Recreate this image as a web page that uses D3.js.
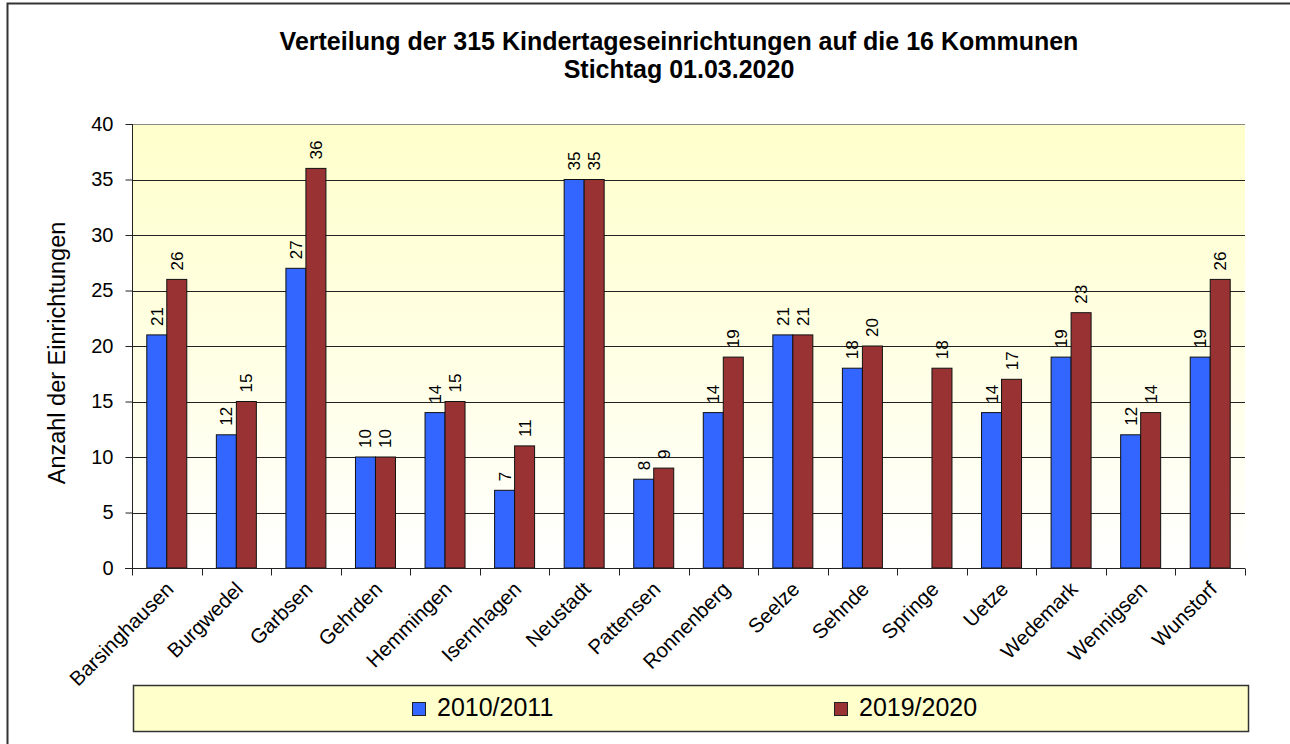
<!DOCTYPE html>
<html>
<head>
<meta charset="utf-8">
<script src="https://cdn.jsdelivr.net/npm/d3@7"></script>
<style>
  body { margin: 0; background: #fff; }
  text { font-family: "Liberation Sans", Arial, sans-serif; fill: #000; }
</style>
</head>
<body>
<svg id="chart" width="1290" height="744"></svg>
<script>
  // Kommunen + Anzahl Kitas
  var kommunen = ['Barsinghausen', 'Burgwedel', 'Garbsen', 'Gehrden', 'Hemmingen', 'Isernhagen',
    'Neustadt', 'Pattensen', 'Ronnenberg', 'Seelze', 'Sehnde', 'Springe', 'Uetze',
    'Wedemark', 'Wennigsen', 'Wunstorf'];
  var werte2010 = [21, 12, 27, 10, 14, 7, 35, 8, 14, 21, 18, null, 14, 19, 12, 19];
  var werte2019 = [26, 15, 36, 10, 15, 11, 35, 9, 19, 21, 20, 18, 17, 23, 14, 26];
  var serien = ['2010/2011', '2019/2020'];
  var farben = ['#3366FF', '#993333'];
  var yTicks = [0, 5, 10, 15, 20, 25, 30, 35, 40];

  var svg = d3.select('#chart');
  var plot = { left: 132, right: 1245, top: 124, bottom: 568 };

  // rahmen (nur links + oben sichtbar)
  svg.append('path')
    .attr('d', 'M7.5,744 L7.5,3.5 L1290,3.5')
    .attr('fill', 'none').attr('stroke', '#333').attr('stroke-width', 2);

  var defs = svg.append('defs');
  var grad = defs.append('linearGradient').attr('id', 'bg')
    .attr('x1', 0).attr('y1', 0).attr('x2', 0).attr('y2', 1);
  grad.append('stop').attr('offset', '0%').attr('stop-color', '#FFFFCC');
  grad.append('stop').attr('offset', '55%').attr('stop-color', '#FFFFE6');
  grad.append('stop').attr('offset', '100%').attr('stop-color', '#FFFFFF');

  var x0 = d3.scaleBand().domain(kommunen).range([plot.left, plot.right]);
  var x1 = d3.scaleBand().domain(serien).range([0, 40]);
  var y = d3.scaleLinear().domain([0, 40]).range([plot.bottom, plot.top]);
  var offset = (x0.bandwidth() - 40) / 2;

  svg.append('rect')
    .attr('x', plot.left).attr('y', plot.top)
    .attr('width', plot.right - plot.left).attr('height', plot.bottom - plot.top)
    .attr('fill', 'url(#bg)');

  // gitterlinien
  svg.append('g').selectAll('line')
    .data(yTicks.filter(function (d) { return d > 0; }))
    .enter().append('line')
    .attr('x1', plot.left).attr('x2', plot.right)
    .attr('y1', function (d) { return Math.round(y(d)) + 0.5; })
    .attr('y2', function (d) { return Math.round(y(d)) + 0.5; })
    .attr('stroke', function (d) { return d === 40 ? '#888' : '#222'; })
    .attr('stroke-width', 1);

  // balken
  var gruppen = svg.append('g').selectAll('g')
    .data(kommunen)
    .enter().append('g')
    .attr('transform', function (d) { return 'translate(' + (x0(d) + offset) + ',0)'; });

  gruppen.selectAll('rect')
    .data(function (d, i) {
      return [{ s: serien[0], v: werte2010[i], c: farben[0] }, { s: serien[1], v: werte2019[i], c: farben[1] }];
    })
    .enter().filter(function (d) { return d.v != null; })
    .append('rect')
    .attr('x', function (d) { return x1(d.s); })
    .attr('y', function (d) { return y(d.v); })
    .attr('width', x1.bandwidth())
    .attr('height', function (d) { return y(0) - y(d.v); })
    .attr('fill', function (d) { return d.c; })
    .attr('stroke', '#111').attr('stroke-width', 1);

  gruppen.selectAll('text')
    .data(function (d, i) {
      return [{ s: serien[0], v: werte2010[i] }, { s: serien[1], v: werte2019[i] }];
    })
    .enter().filter(function (d) { return d.v != null; })
    .append('text')
    .attr('transform', function (d) {
      return 'translate(' + (x1(d.s) + x1.bandwidth() / 2 + 6) + ',' + (y(d.v) - 9) + ') rotate(-90)';
    })
    .attr('font-size', 17)
    .text(function (d) { return d.v; });

  // y-achse
  var yAxis = svg.append('g')
    .attr('transform', 'translate(' + (plot.left + 0.5) + ',0)')
    .call(d3.axisLeft(y).tickValues(yTicks).tickSize(7).tickPadding(12));
  yAxis.select('.domain').attr('stroke', '#222').attr('d', 'M0,' + plot.top + 'V' + plot.bottom);
  yAxis.selectAll('.tick line').attr('stroke', '#222');
  yAxis.selectAll('.tick text').attr('font-size', 20).attr('font-family', '"Liberation Sans", Arial, sans-serif').attr('fill', '#000');

  // x-achse
  var xAxis = svg.append('g')
    .attr('transform', 'translate(0,' + (plot.bottom + 0.5) + ')');
  xAxis.append('line').attr('x1', plot.left - 7).attr('x2', plot.right)
    .attr('stroke', '#222');
  xAxis.selectAll('line.tk')
    .data(kommunen.concat(['_end']))
    .enter().append('line')
    .attr('class', 'tk')
    .attr('x1', function (d, i) { return Math.round(plot.left + i * x0.bandwidth()) + 0.5; })
    .attr('x2', function (d, i) { return Math.round(plot.left + i * x0.bandwidth()) + 0.5; })
    .attr('y1', 0).attr('y2', 7)
    .attr('stroke', '#222');
  xAxis.selectAll('text')
    .data(kommunen)
    .enter().append('text')
    .attr('text-anchor', 'end')
    .attr('font-size', 20.5)
    .attr('transform', function (d) {
      return 'translate(' + (x0(d) + x0.bandwidth() / 2 + 8) + ',22) rotate(-45)';
    })
    .text(function (d) { return d; });

  // y-titel
  svg.append('text')
    .attr('transform', 'translate(65,' + ((plot.top + plot.bottom) / 2 + 7) + ') rotate(-90)')
    .attr('text-anchor', 'middle')
    .attr('font-size', 23.5)
    .text('Anzahl der Einrichtungen');

  // titel
  var titel = svg.append('text')
    .attr('text-anchor', 'middle')
    .attr('font-size', 25)
    .attr('font-weight', 'bold');
  titel.append('tspan').attr('x', 679).attr('y', 50).text('Verteilung der 315 Kindertageseinrichtungen auf die 16 Kommunen');
  titel.append('tspan').attr('x', 679).attr('y', 78).text('Stichtag 01.03.2020');

  // legende
  var leg = svg.append('g');
  leg.append('rect')
    .attr('x', 133.5).attr('y', 685.5).attr('width', 1115).attr('height', 46)
    .attr('fill', '#FFFFCC').attr('stroke', '#333').attr('stroke-width', 1.5);
  var legX = [412, 834];
  serien.forEach(function (s, i) {
    leg.append('rect')
      .attr('x', legX[i] + 0.5).attr('y', 702.5).attr('width', 13).attr('height', 13)
      .attr('fill', farben[i]).attr('stroke', '#222');
    leg.append('text')
      .attr('x', legX[i] + 25).attr('y', 716)
      .attr('font-size', 25)
      .text(s);
  });
</script>
</body>
</html>
